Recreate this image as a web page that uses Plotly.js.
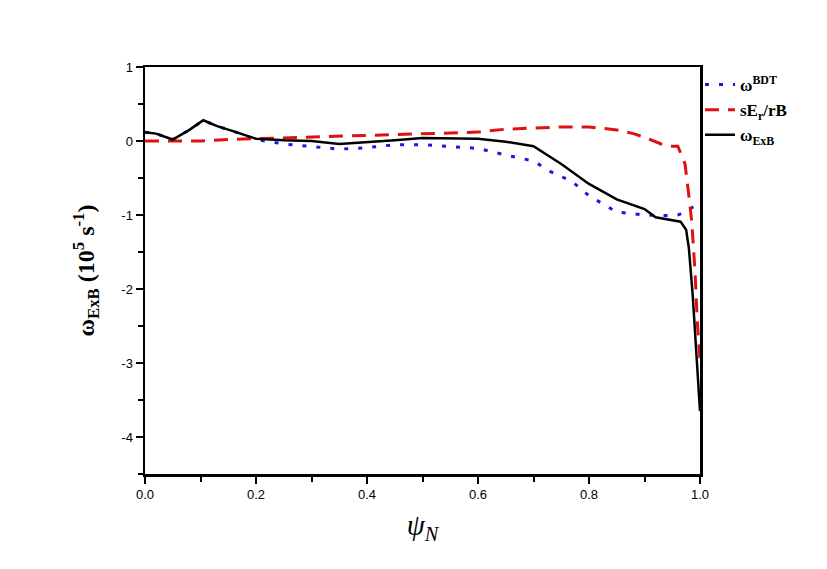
<!DOCTYPE html>
<html>
<head>
<meta charset="utf-8">
<script src="https://cdn.plot.ly/plotly-3.0.1.min.js"></script>
<style>html,body{margin:0;padding:0;background:#fff;}#chart{width:827px;height:569px;}</style>
</head>
<body>
<div id="chart"></div>
<script>
// psi_N positions and values (10^5 s^-1)
var xExB = [0, 0.02, 0.05, 0.08, 0.105, 0.13, 0.16, 0.2, 0.25, 0.3, 0.35, 0.4, 0.45, 0.5, 0.55, 0.6, 0.65, 0.7, 0.75, 0.8, 0.85, 0.9, 0.92, 0.95, 0.965, 0.975, 0.98, 0.987, 0.993, 0.997, 1.0];
var yExB = [0.12, 0.1, 0.02, 0.15, 0.28, 0.2, 0.13, 0.03, 0.01, 0.0, -0.04, -0.02, 0.01, 0.04, 0.04, 0.03, -0.01, -0.07, -0.31, -0.58, -0.79, -0.92, -1.03, -1.07, -1.09, -1.2, -1.45, -2.1, -2.8, -3.3, -3.65];

var xBDT = [0, 0.02, 0.05, 0.08, 0.105, 0.13, 0.16, 0.2, 0.25, 0.3, 0.35, 0.4, 0.45, 0.5, 0.55, 0.6, 0.65, 0.7, 0.73, 0.77, 0.8, 0.85, 0.9, 0.95, 0.96, 0.975, 0.99, 1.0];
var yBDT = [0.12, 0.1, 0.02, 0.15, 0.28, 0.2, 0.13, 0.02, -0.04, -0.08, -0.11, -0.09, -0.05, -0.05, -0.07, -0.1, -0.19, -0.27, -0.41, -0.55, -0.74, -0.96, -1.0, -1.01, -1.0, -0.95, -0.88, -0.86];

var xEr = [0, 0.05, 0.1, 0.15, 0.2, 0.25, 0.3, 0.35, 0.4, 0.45, 0.5, 0.55, 0.6, 0.65, 0.7, 0.75, 0.8, 0.85, 0.88, 0.9, 0.93, 0.945, 0.96, 0.973, 0.979, 0.985, 0.991, 0.995, 1.0];
var yEr = [0.0, 0.0, 0.0, 0.02, 0.03, 0.05, 0.06, 0.06, 0.07, 0.08, 0.09, 0.1, 0.12, 0.16, 0.18, 0.19, 0.19, 0.15, 0.1, 0.05, -0.04, -0.07, -0.07, -0.31, -0.68, -1.08, -1.76, -2.43, -2.95];

var xTicks = [0, 0.2, 0.4, 0.6, 0.8, 1.0];
var xTickText = ['0.0', '0.2', '0.4', '0.6', '0.8', '1.0'];
var yTicks = [1, 0, -1, -2, -3, -4];
var yTickText = ['1', '0', '-1', '-2', '-3', '-4'];

var traces = [
  {x: xBDT, y: yBDT, mode: 'lines', name: 'ω<sup>BDT</sup>',
   line: {color: '#1a1adb', width: 3, dash: '4px,10px'}},
  {x: xEr, y: yEr, mode: 'lines', name: 'sE<sub>r</sub>/rB',
   line: {color: '#e01010', width: 3, dash: '14px,9px'}},
  {x: xExB, y: yExB, mode: 'lines', name: 'ω<sub>ExB</sub>',
   line: {color: '#000000', width: 2.5}}
];

var axisCommon = {
  showgrid: false, zeroline: false, showline: true, linecolor: '#000', linewidth: 2.5,
  mirror: true, ticks: 'outside', tickcolor: '#000', tickwidth: 2, ticklen: 7,
  tickfont: {family: 'Liberation Sans, Arial, sans-serif', size: 13, color: '#000'}
};

var layout = {
  width: 827, height: 569,
  margin: {l: 145, r: 127, t: 67, b: 95},
  paper_bgcolor: '#fff', plot_bgcolor: '#fff',
  showlegend: true,
  legend: {x: 1.0, xanchor: 'left', y: 1.0, yanchor: 'top', bgcolor: 'rgba(0,0,0,0)',
    font: {family: 'Liberation Serif, Times New Roman, serif', size: 17, color: '#000', weight: 'bold'},
    tracegroupgap: 0, itemwidth: 30},
  xaxis: Object.assign({}, axisCommon, {
    range: [0, 1], tickmode: 'array', tickvals: xTicks, ticktext: xTickText,
    minor: {dtick: 0.1, ticks: 'outside', ticklen: 5, tickwidth: 2, tickcolor: '#000', showgrid: false},
    title: {text: '<i>ψ</i><sub><i>N</i></sub>', standoff: 14,
      font: {family: 'Liberation Serif, Times New Roman, serif', size: 29, color: '#000'}}
  }),
  yaxis: Object.assign({}, axisCommon, {
    range: [-4.5, 1], tickmode: 'array', tickvals: yTicks, ticktext: yTickText,
    minor: {dtick: 0.5, ticks: 'outside', ticklen: 5, tickwidth: 2, tickcolor: '#000', showgrid: false},
    title: {text: 'ω<sub>ExB</sub> (10<sup>5</sup> s<sup>-1</sup>)', standoff: 20,
      font: {family: 'Liberation Serif, Times New Roman, serif', size: 24, color: '#000', weight: 'bold'}}
  })
};

Plotly.newPlot('chart', traces, layout, {displayModeBar: false, staticPlot: true});
</script>
</body>
</html>
